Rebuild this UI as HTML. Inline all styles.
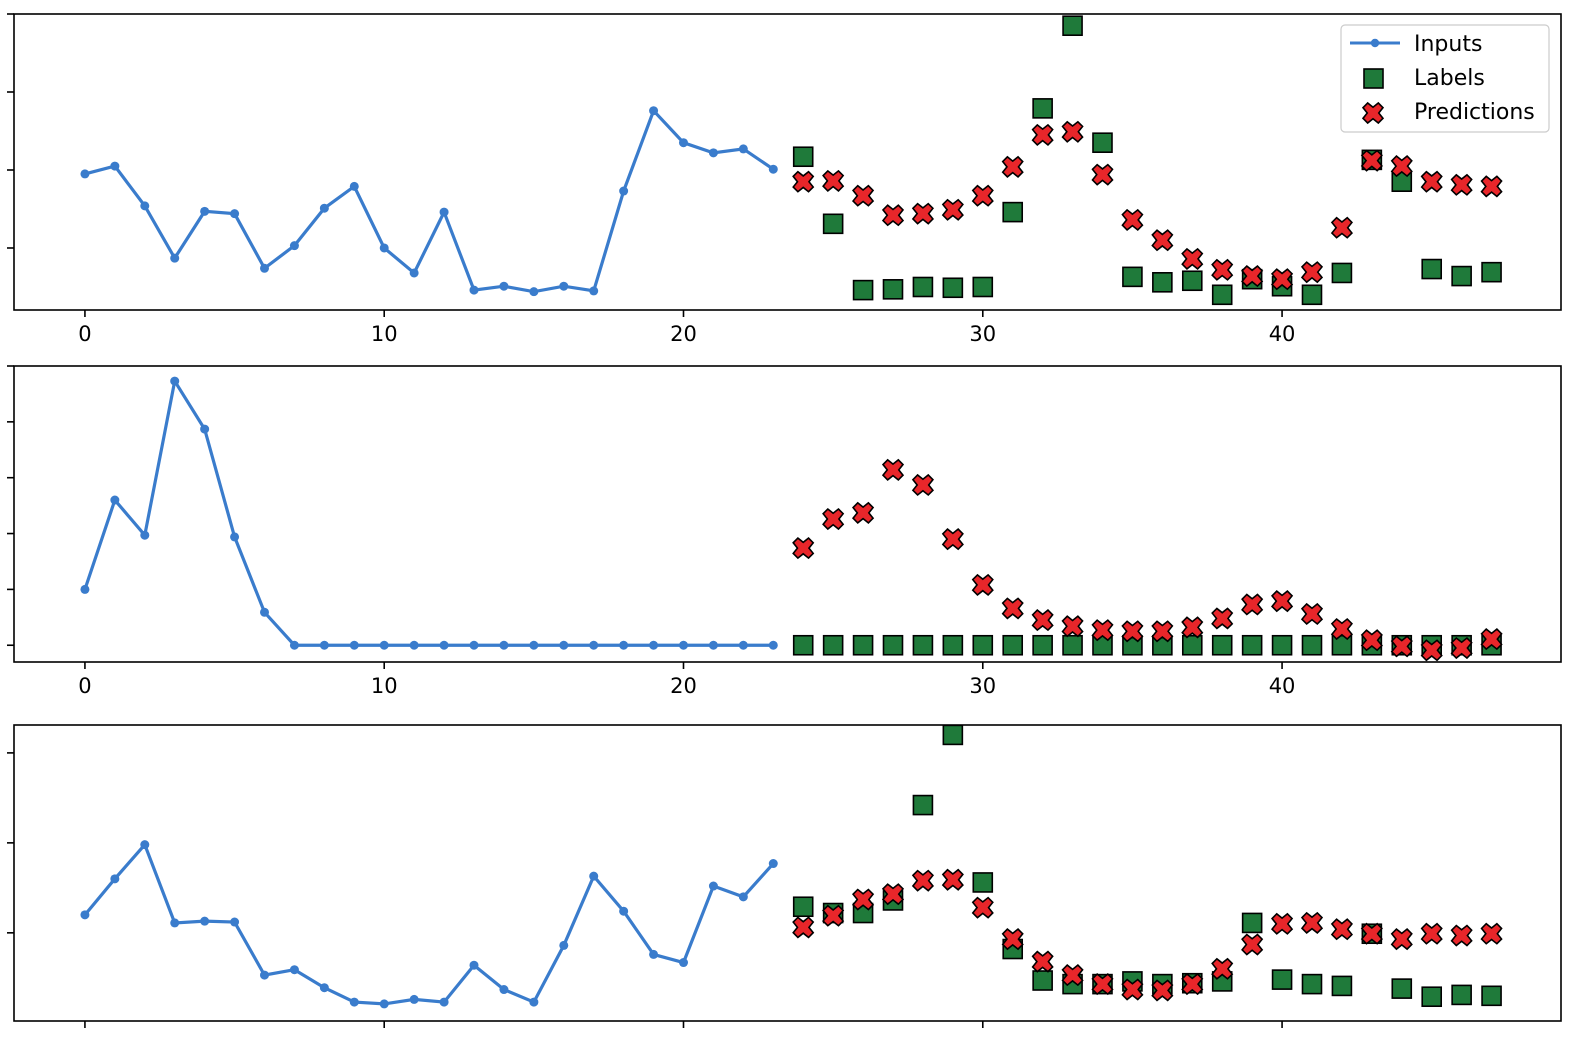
<!DOCTYPE html>
<html><head><meta charset="utf-8"><style>
body{margin:0;background:#fff;}
svg text{font-family:"DejaVu Sans","Liberation Sans",sans-serif;}
</style></head><body>
<svg id="chart" width="1571" height="1034" xmlns="http://www.w3.org/2000/svg"></svg>
<script>
const inputSteps = [...Array(24).keys()];
const labelSteps = Array.from({length:24},(_,i)=>i+24);
const xTicks = [0,10,20,30,40];
const p1Inputs=[1.95,2.05,1.54,0.87,1.47,1.44,0.74,1.03,1.51,1.79,1.0,0.68,1.46,0.46,0.51,0.44,0.51,0.45,1.73,2.76,2.35,2.22,2.27,2.01];
const p1Labels=[2.17,1.31,0.46,0.47,0.5,0.49,0.5,1.46,2.79,3.85,2.35,0.63,0.56,0.58,0.4,0.6,0.51,0.4,0.68,2.13,1.85,0.73,0.64,0.69];
const p1Preds=[1.85,1.86,1.67,1.42,1.44,1.49,1.67,2.04,2.45,2.49,1.94,1.36,1.10,0.86,0.72,0.64,0.60,0.69,1.26,2.12,2.05,1.85,1.81,1.79];
const p2Inputs=[1.0,2.6,1.97,4.73,3.87,1.94,0.59,0,0,0,0,0,0,0,0,0,0,0,0,0,0,0,0,0];
const p2Labels=[0,0,0,0,0,0,0,0,0,0,0,0,0,0,0,0,0,0,0,0,0,0,0,0];
const p2Preds=[1.74,2.26,2.37,3.14,2.87,1.9,1.08,0.66,0.45,0.34,0.27,0.25,0.25,0.32,0.48,0.73,0.79,0.56,0.29,0.09,-0.02,-0.09,-0.05,0.11];
const p3Inputs=[1.2,1.6,1.98,1.11,1.13,1.12,0.53,0.59,0.39,0.23,0.21,0.26,0.23,0.64,0.37,0.23,0.86,1.63,1.24,0.76,0.67,1.52,1.4,1.77];
const p3Labels=[1.29,1.22,1.22,1.36,2.42,3.2,1.56,0.82,0.47,0.43,0.43,0.46,0.43,0.44,0.46,1.11,0.48,0.43,0.41,0.99,0.38,0.29,0.31,0.3];
const p3Preds=[1.06,1.19,1.37,1.43,1.58,1.59,1.28,0.93,0.68,0.53,0.43,0.37,0.36,0.43,0.6,0.87,1.1,1.11,1.04,0.99,0.93,0.99,0.97,0.99];
const p1YTicks=[1,2,3,4];
const p2YTicks=[0,1,2,3,4,5];
const p3YTicks=[1,2,3];

const NS="http://www.w3.org/2000/svg";
const svg=document.getElementById('chart');
function mk(tag,attrs,parent){const e=document.createElementNS(NS,tag);for(const k in attrs)e.setAttribute(k,attrs[k]);(parent||svg).appendChild(e);return e;}
const L=14,R=1561,X0=-2.37,X1=49.32;
const xs=v=>L+(v-X0)/(X1-X0)*(R-L);

const panels=[
 {name:'panel-1',top:14,bot:310,ymin:0.205,ymax:4.0,inp:p1Inputs,lab:p1Labels,pred:p1Preds,yt:p1YTicks,xlabels:true,legend:true},
 {name:'panel-2',top:366,bot:662,ymin:-0.3,ymax:5.0,inp:p2Inputs,lab:p2Labels,pred:p2Preds,yt:p2YTicks,xlabels:true},
 {name:'panel-3',top:725,bot:1021,ymin:0.02,ymax:3.31,inp:p3Inputs,lab:p3Labels,pred:p3Preds,yt:p3YTicks,xlabels:false}
];
function xMarker(g,cx,cy,s){
 const a=s*0.5,b=s*0.18;
 const pts=[[-a,-a+b*1.3],[-a+b*1.3,-a],[0,-b*1.6],[a-b*1.3,-a],[a,-a+b*1.3],[b*1.6,0],[a,a-b*1.3],[a-b*1.3,a],[0,b*1.6],[-a+b*1.3,a],[-a,a-b*1.3],[-b*1.6,0]];
 return mk('polygon',{points:pts.map(p=>(cx+p[0])+','+(cy+p[1])).join(' '),fill:'#e8262a',stroke:'#000','stroke-width':1.6},g);
}
panels.forEach(p=>{
 const g=mk('g',{});
 
 
 const ys=v=>p.bot-(v-p.ymin)/(p.ymax-p.ymin)*(p.bot-p.top);
 p.yt.forEach(t=>{const l=mk('line',{x1:L-7,x2:L,y1:ys(t),y2:ys(t),stroke:'#000','stroke-width':1.6},g);
  });
 xTicks.forEach(t=>{const l=mk('line',{x1:xs(t),x2:xs(t),y1:p.bot,y2:p.bot+7,stroke:'#000','stroke-width':1.6},g);
  
  if(p.xlabels){const tx=mk('text',{x:xs(t),y:p.bot+31,'text-anchor':'middle','font-size':21,fill:'#000'},g);tx.textContent=t;
   }});
 const pl=mk('polyline',{points:inputSteps.map((s,i)=>xs(s)+','+ys(p.inp[i])).join(' '),fill:'none',stroke:'#3a7ccc','stroke-width':3.2},g);
 
 inputSteps.forEach((s,i)=>{const c=mk('circle',{cx:xs(s),cy:ys(p.inp[i]),r:4.5,fill:'#3a7ccc'},g);
  });
 labelSteps.forEach((s,i)=>{const r=mk('rect',{x:xs(s)-9.5,y:ys(p.lab[i])-9.5,width:19,height:19,fill:'#1f7a3a',stroke:'#000','stroke-width':1.6},g);
  });
 labelSteps.forEach((s,i)=>{const m=xMarker(g,xs(s),ys(p.pred[i]),20);
  });
 const fr=mk('rect',{x:L,y:p.top,width:R-L,height:p.bot-p.top,fill:'none',stroke:'#000','stroke-width':1.6},g);
 
 if(p.legend){
  const lg=mk('g',{});
  
  mk('rect',{x:1341,y:25,width:208,height:107,rx:4,fill:'#fff','fill-opacity':0.85,stroke:'#ccc','stroke-width':1.2},lg);
  mk('line',{x1:1350,x2:1400,y1:43,y2:43,stroke:'#3a7ccc','stroke-width':3},lg);
  mk('circle',{cx:1375,cy:43,r:4.2,fill:'#3a7ccc'},lg);
  mk('rect',{x:1364,y:69,width:19,height:19,fill:'#1f7a3a',stroke:'#000','stroke-width':1.6},lg);
  xMarker(lg,1373,113,20);
  [['Inputs',51],['Labels',85],['Predictions',119]].forEach(([t,y])=>{const tx=mk('text',{x:1414,y:y,'font-size':22,fill:'#000'},lg);tx.textContent=t;
   });
 }
});
</script>
</body></html>
